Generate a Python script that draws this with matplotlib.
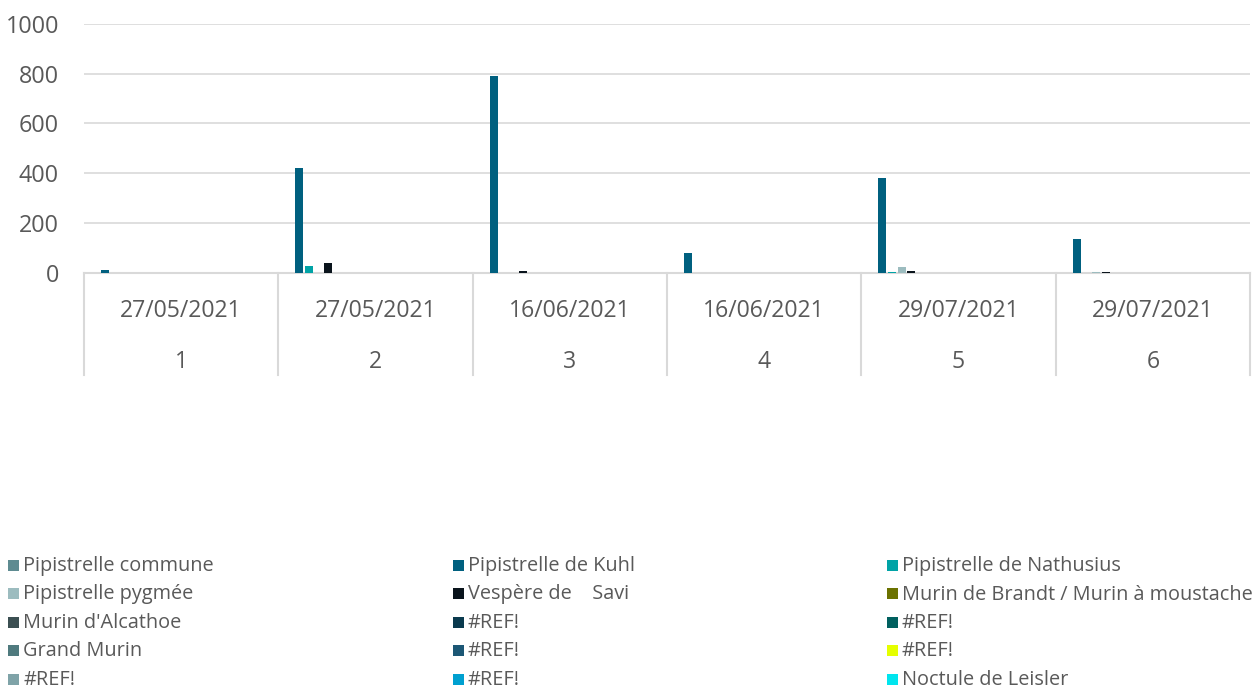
import numpy as np
import matplotlib
matplotlib.use("Agg")
import matplotlib.pyplot as plt
from matplotlib.patches import Rectangle
import matplotlib.transforms as mtransforms

# font setup
plt.rcParams['font.family'] = ['Open Sans', 'DejaVu Sans']

# data
dates = ["27/05/2021", "27/05/2021", "16/06/2021", "16/06/2021", "29/07/2021", "29/07/2021"]
points = ["1", "2", "3", "4", "5", "6"]

species = [
    "Pipistrelle commune", "Pipistrelle de Kuhl", "Pipistrelle de Nathusius",
    "Pipistrelle pygmée", "Vespère de    Savi", "Murin de Brandt / Murin à moustache",
    "Murin d'Alcathoe", "#REF!", "#REF!",
    "Grand Murin", "#REF!", "#REF!",
    "#REF!", "#REF!", "Noctule de Leisler",
]
colors = [
    "#5E8B91", "#00607F", "#00A3A6",
    "#9CBCBF", "#0A141C", "#6B7200",
    "#3B4F52", "#0A3A4E", "#00605F",
    "#4F7A7E", "#1C5775", "#E5FF00",
    "#7FA3A8", "#00A0D0", "#00E5EE",
]

commune = [0, 0, 0, 0, 0, 0]
kuhl = [10, 419, 792, 80, 382, 134]
nathusius = [0, 27, 0, 0, 4, 0]
pygmee = [0, 0, 0, 0, 24, 2]
savi = [0, 38, 8, 0, 5, 1]
zeros = [0, 0, 0, 0, 0, 0]
values = [commune, kuhl, nathusius, pygmee, savi] + [zeros] * 10

W, H = 1257, 691
fig = plt.figure(figsize=(W / 100, H / 100), dpi=100)
ax = fig.add_axes([84 / W, 1 - 272.5 / H, 1166 / W, (272.5 - 24) / H])

grey = "#595959"
x = np.arange(len(dates))
pitch = 0.0494
width = 0.041
start = -0.5 + 0.0386
for i, (vals, c) in enumerate(zip(values, colors)):
    ax.bar(x + start + i * pitch + width / 2, vals, width=width, color=c, zorder=3)

ax.set_xlim(-0.5, len(dates) - 0.5)
ax.set_ylim(0, 1000)
ax.set_yticks(range(0, 1001, 200))
ax.grid(axis="y", color="#D9D9D9", linewidth=1.2, zorder=0)
for s in ["top", "right", "left"]:
    ax.spines[s].set_visible(False)
ax.spines["bottom"].set_color("#D9D9D9")
ax.spines["bottom"].set_linewidth(1.5)
ax.tick_params(axis="y", length=0, labelsize=16.8, labelcolor=grey, pad=18)
ax.set_xticks([])

# two level category axis
trans = mtransforms.blended_transform_factory(ax.transData, ax.transAxes)
ybot = -(375 - 272.5) / (272.5 - 24)
for b in np.arange(len(dates) + 1) - 0.5:
    ax.plot([b, b], [0, ybot], transform=trans, color="#D9D9D9", lw=1.5, clip_on=False)
for xi, d, p in zip(x, dates, points):
    ax.text(xi, -(311 - 272.5) / (272.5 - 24), d, transform=trans, ha="center", va="center",
            fontsize=16.6, color=grey)
    ax.text(xi, -(362 - 272.5) / (272.5 - 24), p, transform=trans, ha="center", va="center",
            fontsize=16.6, color=grey)

# legend, 3 equal columns
col_x = [8, 453, 887]
row_y = [565, 593.5, 622, 650.5, 679]
for i, (name, c) in enumerate(zip(species, colors)):
    r, k = divmod(i, 3)
    fig.patches.append(Rectangle(((col_x[k]) / W, 1 - (row_y[r] + 5.5) / H), 11 / W, 11 / H,
                                 transform=fig.transFigure, facecolor=c, edgecolor="none"))
    fig.text((col_x[k] + 15) / W, 1 - (row_y[r] + 1) / H, name, ha="left", va="center",
             fontsize=14.3, color=grey)

fig.savefig("out.png", dpi=100)
